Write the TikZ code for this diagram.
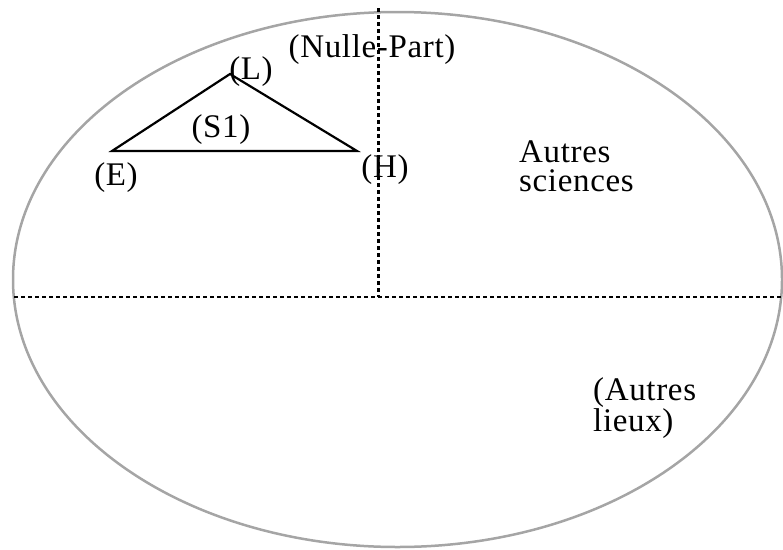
\documentclass[tikz,border=0pt]{standalone}
\usepackage{fontspec}
\setmainfont[LetterSpace=2]{Liberation Serif}
\usetikzlibrary{calc}
\newcommand{\lbl}{\fontsize{33}{29}\selectfont}

\begin{document}
\begin{tikzpicture}[x=1pt,y=-1pt,
    lab/.style={inner sep=0pt,font=\lbl},
    side/.style={line width=2.2pt,line join=miter},
    axisv/.style={line width=3pt,dash pattern=on 4pt off 3pt},
    axish/.style={line width=2pt,dash pattern=on 4pt off 3pt}]
  \useasboundingbox (0,0) rectangle (783,549);
  \draw[line width=2.5pt,color={rgb,255:red,165;green,165;blue,165}] (397.5,279.5) ellipse [x radius=384.5pt,y radius=267.5pt];
  % les axes
  \coordinate (Vtop) at (378,8);
  \coordinate (O) at (378,297);
  \coordinate (Hleft) at (14,297);
  \coordinate (Hright) at (783,297);
  \draw[axish] (Hleft) -- (Hright);
  \draw[axisv] (Vtop) -- (O);
  % le triangle
  \coordinate (E) at (112,151);
  \coordinate (L) at (230,74);
  \coordinate (H) at (357,151);
  \draw[side] (E) -- (L) -- (H) -- cycle;
  \node[lab,anchor=base] (Lt) at (251,79) {(L)};
  \node[lab,anchor=base] (Et) at (116,185) {(E)};
  \node[lab,anchor=base] (Ht) at (385,177) {(H)};
  \node[lab,anchor=base] (S1t) at (221,137) {(S1)};
  \node[lab,anchor=base] (NPt) at (372,57) {(Nulle-Part)};
  % base = derniere ligne
  \node[lab,anchor=base west,align=left] (ASt) at (519,191) {Autres\\sciences};
  \node[lab,anchor=base west,align=left] (ALt) at (593,431) {(Autres\\lieux)};
\end{tikzpicture}
\end{document}
